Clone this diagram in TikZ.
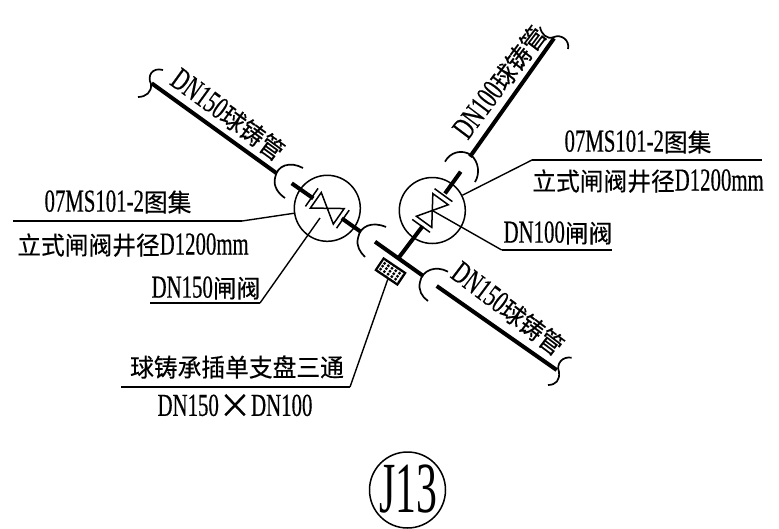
\documentclass[tikz,border=0pt]{standalone}
\usepackage{fontspec}
\setmainfont{Liberation Serif}
\newfontfamily\latfam[FakeStretch=.65,FakeBold=.4]{Liberation Serif}
\newfontfamily\markfam[FakeStretch=.58]{Liberation Serif}
\newfontfamily\cjkfam[FakeStretch=.95,FakeBold=.3]{Noto Sans CJK SC}
\newcommand{\lat}{\fontsize{32}{34}\selectfont\latfam}
\newcommand{\cjk}{\fontsize{25}{34}\selectfont\cjkfam}
\usetikzlibrary{arrows.meta, positioning, patterns}
\tikzset{
    pipe/.style={line width=4pt},
    brk/.style={line width=1.7pt},
    leader/.style={line width=1.4pt},
    rule/.style={line width=1.8pt},
    lbl/.style={inner sep=0pt},
    valve/.style={circle, draw, line width=1.5pt, inner sep=0pt, minimum size=66pt},
    tee/.style={rectangle, draw, line width=2.2pt, inner sep=0pt, fill=white,
        minimum width=26pt, minimum height=14pt,
        path picture={
            \foreach \a in {-14,-9.5,...,14}
                \foreach \b in {-7,-3.5,...,7}
                    \node[rotate=45, fill=black, minimum size=2.3pt, inner sep=0pt]
                        at ([shift={(\a pt,\b pt)}]path picture bounding box.center) {};
        }},
    gate/.pic={
        \draw[line width=1.5pt] (0,0)--(-14,-9.5)--(-14,9.5)--cycle;
        \draw[line width=1.5pt] (0,0)--(14,-9.5)--(14,9.5)--cycle;
        \draw[line width=1.5pt] (-19,-11)--(-19,11);
        \draw[line width=1.5pt] (19,-11)--(19,11);
    },
}
\newcommand{\pipename}[1]{{\lat #1}{\cjk 球铸管}}
\begin{document}
\begin{tikzpicture}[x=1pt, y=-1pt]
    \useasboundingbox (0,0) rectangle (779,528);

    \node[valve] (valveL) at (327.3,208.3) {};
    \node[valve] (valveR) at (432.3,210.5) {};
    \node[tee, rotate=-34] (tee) at (390.5,271.5) {};
    \node[circle, draw, line width=1.5pt, minimum size=76pt, inner sep=0pt] (mark) at (407.5,490) {};
    \node[inner sep=0pt, font=\fontsize{72}{72}\selectfont] (marktext) at (408.5,489) {\markfam J13};

    \pic[rotate=-35] at (valveL.center) {gate};
    \pic[rotate=54] at (valveR.center) {gate};

    % pipes
    \foreach \i/\j/\k/\l in {151.7/83.3/276.7/173.3, 291.7/183.3/313.3/198.4, 341.7/218.3/360.7/231.7,
                        375/241.7/423.3/276, 436.7/286/556.7/370,
                        554/38.3/470/156.7, 460.7/171.7/445/193.5, 422.7/226/398.3/258.3}
        \draw[pipe] (\i,\j)--(\k,\l);

    % breaks
    \draw[brk] (163,70) .. controls (152,67) and (147,76) .. (151,84) .. controls (152,92) and (146,97) .. (138,97);
    \draw[brk] (303,168) .. controls (290,161) and (277,165) .. (275,178) .. controls (273,187) and (279,194) .. (285,198);
    \draw[brk] (386,227) .. controls (372,221) and (360,226) .. (358,238) .. controls (356,246) and (360,252) .. (365,257);
    \draw[brk] (448,271.7) .. controls (436,265) and (422,270) .. (420,282) .. controls (418,290) and (422,297) .. (428,301);
    \draw[brk] (571.7,357.7) .. controls (562,356) and (556,364) .. (559,372) .. controls (560,380) and (556,385) .. (548,385);
    \draw[brk] (540,26.7) .. controls (541,34) and (547,40) .. (554,37) .. controls (561,34) and (570,40) .. (568,49);
    \draw[brk] (445,161.7) .. controls (450,152) and (462,149) .. (471,155) .. controls (479,162) and (480,174) .. (475,182);

    % leaders
    \coordinate (ulA) at (13,221);
    \coordinate (ulB) at (242,221);
    \coordinate (urA) at (532,160);
    \coordinate (urB) at (762,160);
    \coordinate (gvA) at (260,303);
    \coordinate (gvB) at (150,303);
    \coordinate (gwA) at (501.7,250);
    \coordinate (gwB) at (612,250);
    \coordinate (ttA) at (350,387);
    \coordinate (ttB) at (120.7,387);

    \foreach \i/\j in {ulA/ulB, urA/urB, gvA/gvB, gwA/gwB, ttA/ttB}
        \draw[rule] (\i)--(\j);
    \draw[leader] (ulB)--(valveL);
    \draw[leader] (urA)--(valveR);
    \draw[leader] (gvA)--(320,218);
    \draw[leader] (gwA)--(valveR.center);
    \draw[leader] (ttA)--(tee);

    % labels
    \node[lbl] (noteL) at (118,202) {\lat 07MS101-2\cjk 图集};
    \node[lbl] (sizeL) at (133,245) {\cjk 立式闸阀井径\lat D1200mm};
    \node[lbl] (noteR) at (638,142) {\lat 07MS101-2\cjk 图集};
    \node[lbl] (sizeR) at (648,181) {\cjk 立式闸阀井径\lat D1200mm};
    \node[lbl] (gateL) at (206,288) {\lat DN150\cjk 闸阀};
    \node[lbl] (gateR) at (558,233) {\lat DN100\cjk 闸阀};
    \node[lbl] (teeA) at (237,367) {\cjk 球铸承插单支盘三通};
    \node[lbl] (teeB) at (235,406) {\lat DN150{\fontsize{34}{34}\selectfont\cjkfam\raisebox{-2pt}{×}}\lat DN100};
    \node[lbl, rotate=-36] (pipeA) at (228,115) {\pipename{DN150}};
    \node[lbl, rotate=53] (pipeB) at (500,82) {\pipename{DN100}};
    \node[lbl, rotate=-37] (pipeC) at (508,309) {\pipename{DN150}};
\end{tikzpicture}
\end{document}
